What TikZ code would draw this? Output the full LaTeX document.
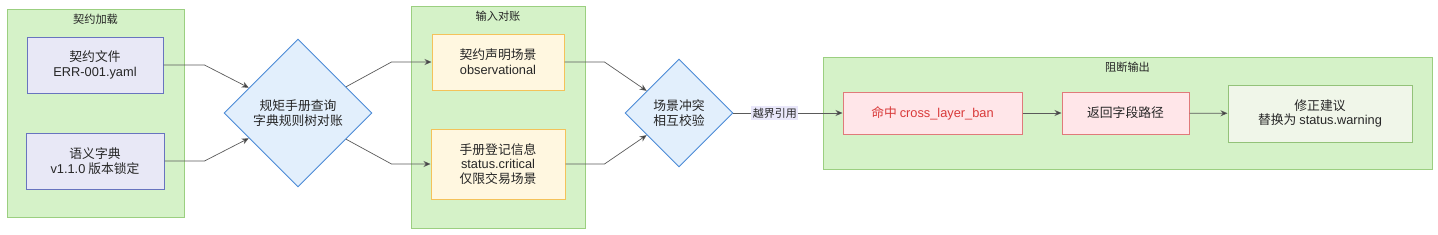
\documentclass[tikz,border=0pt]{standalone}
\usepackage{fontspec}
\setmainfont{Noto Sans CJK SC}
\newfontfamily\lat{Liberation Sans}
\usepackage{xcolor}
\usetikzlibrary{arrows.meta,positioning,calc,shapes.geometric}

\definecolor{grpfill}{HTML}{D5F2C8}
\definecolor{grpline}{HTML}{9BCF80}
\definecolor{lavfill}{HTML}{E8E8F6}
\definecolor{lavline}{HTML}{6874BF}
\definecolor{decfill}{HTML}{E2EFFC}
\definecolor{decline}{HTML}{4B8BD6}
\definecolor{yelfill}{HTML}{FFF7E0}
\definecolor{yelline}{HTML}{F4C25A}
\definecolor{redfill}{HTML}{FFE6E9}
\definecolor{redline}{HTML}{E07A7A}
\definecolor{redtext}{HTML}{D93A3A}
\definecolor{okfill}{HTML}{F0F6E9}
\definecolor{okline}{HTML}{93C279}
\definecolor{tagfill}{HTML}{E9E7FA}
\definecolor{flowline}{HTML}{5A5A5A}

\tikzset{
	grp/.style={draw=grpline,fill=grpfill,line width=0.9pt,inner sep=0pt},
	grptitle/.style={font=\fontsize{11.2}{12}\selectfont,text=black!85,inner sep=0pt},
	box/.style={draw,line width=1pt,align=center,inner sep=0pt,
		font=\fontsize{12.8}{14.8}\selectfont,text=black!85},
	lavbox/.style={box,draw=lavline,fill=lavfill},
	yelbox/.style={box,draw=yelline,fill=yelfill},
	redbox/.style={box,draw=redline,fill=redfill},
	okbox/.style={box,draw=okline,fill=okfill},
	check/.style={diamond,aspect=1,draw=decline,fill=decfill,line width=0.9pt,
		inner sep=0pt,align=center,font=\fontsize{12.8}{14.8}\selectfont,text=black!85},
	flow/.style={draw=flowline,line width=0.7pt,-{Stealth[length=7pt,width=6pt,fill=black!80]}},
	tag/.style={fill=tagfill,inner sep=1.5pt,font=\fontsize{11}{12}\selectfont,text=black!85}
}

\begin{document}
\begin{tikzpicture}[x=1pt,y=-1pt]
		
		\useasboundingbox (0,0) rectangle (1438,234);
		
		% groups
		\node[grp,minimum width=177pt,minimum height=208pt] (G1) at (95.5,113) {};
		\node[grptitle] at (95.5,19) {契约加载};
		
		\node[grp,minimum width=174pt,minimum height=222pt] (G2) at (498,117) {};
		\node[grptitle] at (498,16) {输入对账};
		
		\node[grp,minimum width=609pt,minimum height=112pt] (G3) at (1127.5,113) {};
		\node[grptitle] at (1127.5,67) {阻断输出};
		
		% contract loading
		\node[lavbox,minimum width=136pt,minimum height=56pt] (F)
		at (95,65)
		{契约文件\\{\lat ERR-001.yaml}};
		
		\node[lavbox,minimum width=138pt,minimum height=56pt] (D)
		at (95,161)
		{语义字典\\{\lat v1.1.0} 版本锁定};
		
		\node[check,minimum width=148pt,minimum height=148pt] (Q)
		at (298,113)
		{规矩手册查询\\字典规则树对账};
		
		% input reconciliation
		\node[yelbox,minimum width=132pt,minimum height=56pt] (S)
		at (498,62)
		{契约声明场景\\{\lat observational}};
		
		\node[yelbox,minimum width=134pt,minimum height=70pt] (R)
		at (498,164)
		{手册登记信息\\{\lat status.critical}\\仅限交易场景};
		
		\node[check,minimum width=108pt,minimum height=108pt] (X)
		at (679,113)
		{场景冲突\\相互校验};
		
		% blocking output
		\node[redbox,minimum width=179pt,minimum height=42pt,text=redtext] (H)
		at (932.5,113)
		{命中 {\lat cross\_layer\_ban}};
		
		\node[redbox,minimum width=127pt,minimum height=42pt] (P)
		at (1125.5,113)
		{返回字段路径};
		
		\node[okbox,minimum width=184pt,minimum height=57pt] (W)
		at (1320,113.5)
		{修正建议\\替换为 {\lat status.warning}};
		
		% connectors
		\draw[flow] (F.east) -- ++(41,0) -- (Q);
		\draw[flow] (D.east) -- ++(40,0) -- (Q);
		
		\draw[flow] (Q) -- ([xshift=-40pt]S.west) -- (S.west);
		\draw[flow] (Q) -- ([xshift=-39pt]R.west) -- (R.west);
		
		\draw[flow] (S.east) -- ++(40,0) -- (X);
		\draw[flow] (R.east) -- ++(39,0) -- (X);
		
		\draw[flow] (X.east) -- node[tag,pos=0.38] {越界引用} (H.west);
		\draw[flow] (H) -- (P);
		\draw[flow] (P) -- (W);
		
	\end{tikzpicture}
\end{document}
